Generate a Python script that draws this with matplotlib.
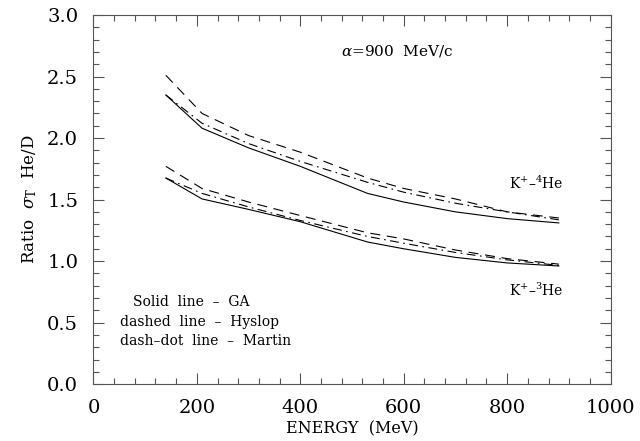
import matplotlib
matplotlib.use("Agg")
import matplotlib.pyplot as plt
from matplotlib.ticker import MultipleLocator, FormatStrFormatter

plt.rcParams['font.family'] = ['DejaVu Serif']
plt.rcParams['mathtext.fontset'] = 'dejavuserif'

energy = [140, 210, 300, 400, 530, 600, 700, 800, 900]

# K+ - 4He ratios
he4_ga = [2.35, 2.08, 1.92, 1.77, 1.55, 1.48, 1.40, 1.345, 1.31]
he4_hyslop = [2.51, 2.20, 2.02, 1.885, 1.675, 1.59, 1.505, 1.40, 1.35]
he4_martin = [2.35, 2.12, 1.955, 1.81, 1.64, 1.56, 1.47, 1.40, 1.335]

# K+ - 3He ratios
he3_ga = [1.675, 1.505, 1.42, 1.32, 1.155, 1.10, 1.03, 0.985, 0.96]
he3_hyslop = [1.77, 1.59, 1.48, 1.37, 1.23, 1.18, 1.09, 1.02, 0.975]
he3_martin = [1.675, 1.55, 1.44, 1.33, 1.20, 1.145, 1.07, 1.01, 0.965]

fig = plt.figure(figsize=(6.4, 4.41), dpi=100)
ax = fig.add_axes([0.146, 0.129, 0.808, 0.837])

lw = 0.8
dash = (0, (9, 6))
dashdot = (0, (8, 4, 1.5, 4))
for ga, hy, ma in [(he4_ga, he4_hyslop, he4_martin), (he3_ga, he3_hyslop, he3_martin)]:
    ax.plot(energy, ga, color='black', lw=lw, linestyle='-')
    ax.plot(energy, hy, color='black', lw=lw, linestyle=dash)
    ax.plot(energy, ma, color='black', lw=lw, linestyle=dashdot)

ax.set_xlim(0, 1000)
ax.set_ylim(0, 3.0)
ax.xaxis.set_major_locator(MultipleLocator(200))
ax.xaxis.set_minor_locator(MultipleLocator(40))
ax.yaxis.set_major_locator(MultipleLocator(0.5))
ax.yaxis.set_minor_locator(MultipleLocator(0.1))
ax.yaxis.set_major_formatter(FormatStrFormatter('%.1f'))
ax.tick_params(which='both', direction='in', top=True, right=True,
               color='#555555', width=0.8, labelsize=14, pad=11)
ax.tick_params(which='major', length=8)
ax.tick_params(which='minor', length=4.5)
for s in ax.spines.values():
    s.set_color('#555555')
    s.set_linewidth(0.8)

ax.set_xlabel('ENERGY  (MeV)', fontsize=11.5, labelpad=2)
ax.set_ylabel(r'Ratio  $\sigma_{\rm T}$  He/D', fontsize=12, labelpad=6)

ax.text(587, 2.71, r'$\alpha$=900  MeV/c', fontsize=11, ha='center', va='center')
ax.text(804, 1.63, 'K$^{+}$\u2013$^{4}$He', fontsize=10, ha='left', va='center')
ax.text(804, 0.76, 'K$^{+}$\u2013$^{3}$He', fontsize=10, ha='left', va='center')

ax.text(76, 0.666, 'Solid  line  \u2013  GA', fontsize=10, ha='left', va='center')
ax.text(52, 0.504, 'dashed  line  \u2013  Hyslop', fontsize=10, ha='left', va='center')
ax.text(52, 0.349, 'dash\u2013dot  line  \u2013  Martin', fontsize=10, ha='left', va='center')

fig.savefig('out.png', dpi=100)
